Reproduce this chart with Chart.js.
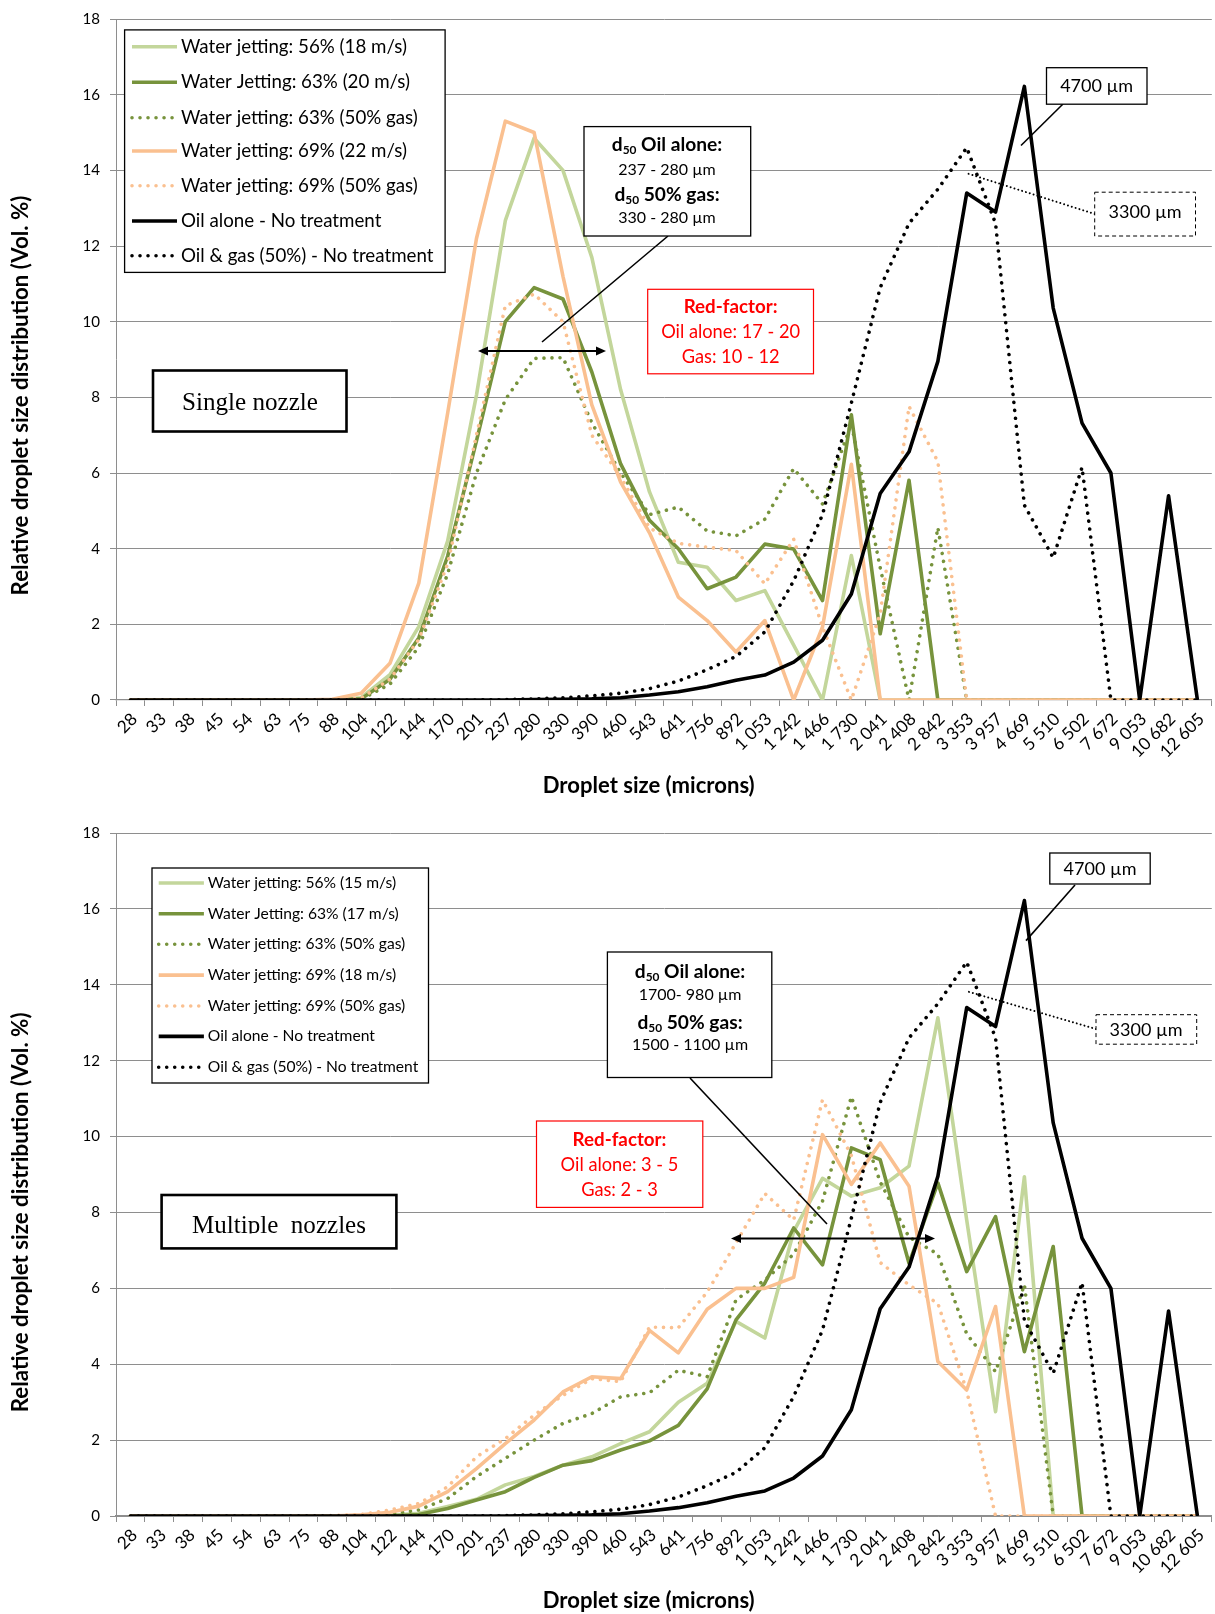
<!DOCTYPE html>
<html><head><meta charset="utf-8">
<script src="https://cdn.jsdelivr.net/npm/chart.js@4.4.1/dist/chart.umd.min.js"></script>
<style>
html,body{margin:0;padding:0;background:#fff;overflow:hidden;width:1215px;height:1614px;}
.wrap{position:absolute;left:0;width:1215px;height:807px;}
#w1{top:0} #w2{top:807px}
canvas{display:block}
</style></head><body>
<div class="wrap" id="w1"><canvas id="c1" width="1215" height="807"></canvas></div>
<div class="wrap" id="w2"><canvas id="c2" width="1215" height="807"></canvas></div>
<script>
// ---------------- DATA ----------------
const categories = ["28","33","38","45","54","63","75","88","104","122","144","170","201","237","280","330","390","460","543","641","756","892","1 053","1 242","1 466","1 730","2 041","2 408","2 842","3 353","3 957","4 669","5 510","6 502","7 672","9 053","10 682","12 605"];

// untreated references (same in both panels)
const oilAlone = [0,0,0,0,0,0,0,0,0,0,0,0,0,0,0.01,0.02,0.03,0.06,0.13,0.22,0.35,0.52,0.66,1.0,1.58,2.8,5.46,6.56,8.95,13.4,12.9,16.22,10.36,7.32,6.0,0,5.4,0];
const oilGas   = [0,0,0,0,0,0,0,0,0,0,0,0,0,0.01,0.03,0.06,0.11,0.18,0.3,0.5,0.8,1.15,1.8,3.15,4.9,7.85,10.9,12.6,13.5,14.6,12.6,5.15,3.76,6.15,0,0,0,0];

// Single nozzle
const single56   = [0,0,0,0,0,0,0,0,0.06,0.67,1.94,4.2,8.06,12.67,14.85,14.0,11.7,8.2,5.5,3.64,3.51,2.63,2.89,1.45,0,3.82,0,0,0,0,0,0,0,0,0,0,0,0];
const single63   = [0,0,0,0,0,0,0,0,0.03,0.55,1.64,3.8,6.85,10.0,10.9,10.6,8.67,6.24,4.75,4.0,2.94,3.25,4.12,3.99,2.63,7.54,1.75,5.81,0,0,0,0,0,0,0,0,0,0];
const single63gas= [0,0,0,0,0,0,0,0,0.02,0.42,1.4,3.33,6.0,7.94,9.03,9.05,7.33,6.0,4.9,5.1,4.47,4.34,4.78,6.12,5.18,7.3,3.5,0,4.56,0,0,0,0,0,0,0,0,0];
const single69   = [0,0,0,0,0,0,0,0.02,0.18,0.97,3.09,7.58,12.2,15.3,15.0,11.2,7.8,5.76,4.42,2.72,2.1,1.27,2.1,0,1.93,6.23,0,0,0,0,0,0,0,0,0,0,0,0];
const single69gas= [0,0,0,0,0,0,0,0,0.05,0.55,1.6,3.6,7.0,10.42,10.73,10.0,7.0,5.9,4.55,4.14,4.04,3.95,3.07,4.25,1.93,0,2.28,7.76,6.3,0,0,0,0,0,0,0,0,0];

// Multiple nozzles
const multi56    = [0,0,0,0,0,0,0,0,0,0.02,0.07,0.25,0.44,0.82,1.04,1.34,1.56,1.91,2.22,3.0,3.5,5.13,4.69,7.5,8.9,8.43,8.65,9.22,13.13,7.8,2.75,8.94,0,0,0,0,0,0];
const multi63    = [0,0,0,0,0,0,0,0,0,0,0.04,0.2,0.42,0.64,1.02,1.34,1.46,1.74,1.98,2.39,3.35,5.17,6.14,7.59,6.62,9.7,9.39,6.66,8.78,6.44,7.89,4.33,7.1,0,0,0,0,0];
const multi63gas = [0,0,0,0,0,0,0,0,0,0.05,0.16,0.46,1.04,1.52,2.0,2.44,2.7,3.14,3.25,3.84,3.67,5.7,6.22,6.9,8.3,11.05,8.8,7.35,6.9,4.8,3.8,6.1,0,0,0,0,0,0];
const multi69    = [0,0,0,0,0,0,0,0,0.03,0.1,0.26,0.64,1.25,1.91,2.53,3.27,3.67,3.62,4.89,4.3,5.45,6.0,6.0,6.29,10.05,8.74,9.83,8.69,4.07,3.32,5.52,0,0,0,0,0,0,0];
const multi69gas = [0,0,0,0,0,0,0,0.01,0.04,0.16,0.33,0.77,1.56,2.04,2.66,3.18,3.62,3.54,4.98,4.96,5.9,7.2,8.5,7.8,10.97,9.5,6.68,6.09,5.6,3.3,0,0,0,0,0,0,0,0];

const legendSingle = ["Water jetting: 56% (18 m/s)","Water Jetting: 63% (20 m/s)","Water jetting: 63% (50% gas)","Water jetting: 69% (22 m/s)","Water jetting: 69% (50% gas)","Oil alone - No treatment","Oil & gas (50%) - No treatment"];
const legendMulti  = ["Water jetting: 56% (15 m/s)","Water Jetting: 63% (17 m/s)","Water jetting: 63% (50% gas)","Water jetting: 69% (18 m/s)","Water jetting: 69% (50% gas)","Oil alone - No treatment","Oil & gas (50%) - No treatment"];

const xTitle = "Droplet size (microns)";
const yTitle = "Relative droplet size distribution (Vol. %)";

// ---------------- STYLE ----------------
const F = "Lato";
const SERIF = "'Liberation Serif'";
const GRID = '#8e8e8e';
const C_LG = '#c3d69b', C_DG = '#77933c', C_OR = '#fac090', C_BK = '#000000';
const DOT = [0.01, 8];
const LW = 3.6;

const mctx = document.createElement('canvas').getContext('2d');
function fit(text, weight, family, target) {
  mctx.font = weight + ' 100px ' + family;
  return 100 * target / mctx.measureText(text).width;
}
function richParts(text1, text2, size) {
  return [
    {t: text1, font: 'bold ' + size + 'px ' + F, dy: 0},
    {t: '50', font: 'bold ' + (size * 0.62) + 'px ' + F, dy: size * 0.28},
    {t: text2, font: 'bold ' + size + 'px ' + F, dy: 0}
  ];
}
function richWidth(parts) {
  let w = 0;
  parts.forEach(p => { mctx.font = p.font; w += mctx.measureText(p.t).width; });
  return w;
}
const sz = {
  tick: fit('18', 'normal', F, 17.5),
  axisTitle: fit(xTitle, 'bold', F, 212),
  yTitle: fit(yTitle, 'bold', F, 400),
  legend1: fit('Water jetting: 56% (18 m/s)', 'normal', F, 226),
  legend2: fit('Water jetting: 56% (15 m/s)', 'normal', F, 188.6),
  d50: fit('237 - 280 µm', 'normal', F, 97.7),
  d50b: 100 * 110.5 / richWidth(richParts('d', ' Oil alone:', 100)),
  red: fit('Oil alone: 17 - 20', 'normal', F, 139),
  redb: fit('Red-factor:', 'bold', F, 94),
  um: fit('4700 µm', 'normal', F, 73),
  single: fit('Single nozzle', 'normal', SERIF, 136),
  multi: fit('Multiple  nozzles', 'normal', SERIF, 174)
};

function makeSeries(labels, lg, dg, dgd, or, ord) {
  return [
    {label: labels[0], data: lg,  color: C_LG, dotted: false},
    {label: labels[1], data: dg,  color: C_DG, dotted: false},
    {label: labels[2], data: dgd, color: C_DG, dotted: true},
    {label: labels[3], data: or,  color: C_OR, dotted: false},
    {label: labels[4], data: ord, color: C_OR, dotted: true},
    {label: labels[5], data: oilAlone, color: C_BK, dotted: false},
    {label: labels[6], data: oilGas,   color: C_BK, dotted: true}
  ];
}

// ---------------- DRAW HELPERS ----------------
function rect(c, x, y, w, h, o) {
  c.save();
  if (o.fill) { c.fillStyle = o.fill; c.fillRect(x, y, w, h); }
  c.strokeStyle = o.stroke || '#000'; c.lineWidth = o.lw || 1;
  c.setLineDash(o.dash || []);
  c.strokeRect(x, y, w, h);
  c.restore();
}
function txt(c, s, x, y, font, color, align) {
  c.font = font; c.fillStyle = color || '#000';
  c.textAlign = align || 'center'; c.textBaseline = 'middle';
  c.fillText(s, x, y);
}
function seg(c, x1, y1, x2, y2, lw, dash, cap) {
  c.save(); c.strokeStyle = '#000'; c.lineWidth = lw; c.setLineDash(dash || []);
  c.lineCap = cap || 'butt';
  c.beginPath(); c.moveTo(x1, y1); c.lineTo(x2, y2); c.stroke(); c.restore();
}
function dblArrow(c, x1, x2, y) {
  const hl = 10, hw = 4.5;
  seg(c, x1 + hl - 1, y, x2 - hl + 1, y, 2);
  c.fillStyle = '#000';
  c.beginPath(); c.moveTo(x1, y); c.lineTo(x1 + hl, y - hw); c.lineTo(x1 + hl, y + hw); c.closePath(); c.fill();
  c.beginPath(); c.moveTo(x2, y); c.lineTo(x2 - hl, y - hw); c.lineTo(x2 - hl, y + hw); c.closePath(); c.fill();
}
function rich(c, parts, cx, cy) {
  const w = richWidth(parts);
  let x = cx - w / 2;
  c.textAlign = 'left'; c.textBaseline = 'middle'; c.fillStyle = '#000';
  parts.forEach(p => { c.font = p.font; c.fillText(p.t, x, cy + p.dy); x += c.measureText(p.t).width; });
}

function annotPlugin(P) {
  return {
    id: 'annot_' + P.id,
    afterDraw(chart) {
      const c = chart.ctx;
      c.save();
      // axis titles
      c.save(); c.translate(P.yTitlePos[0], P.yTitlePos[1]); c.rotate(-Math.PI / 2);
      txt(c, yTitle, 0, 0, 'bold ' + sz.yTitle + 'px ' + F, '#000'); c.restore();
      txt(c, xTitle, P.xTitlePos[0], P.xTitlePos[1], 'bold ' + sz.axisTitle + 'px ' + F, '#000');

      // legend
      const L = P.legend;
      rect(c, L.box[0], L.box[1], L.box[2], L.box[3], {fill: '#fff', stroke: '#000', lw: 1.3});
      P.series.forEach((s, i) => {
        const y = L.rows[i];
        c.save(); c.strokeStyle = s.color; c.lineWidth = LW;
        c.setLineDash(s.dotted ? DOT : []); c.lineCap = s.dotted ? 'round' : 'butt';
        c.beginPath(); c.moveTo(L.sx[0], y); c.lineTo(L.sx[1], y); c.stroke(); c.restore();
        txt(c, s.label, L.tx, y, L.size + 'px ' + F, '#000', 'left');
      });

      // d50 box + leader + arrow
      const D = P.d50;
      seg(c, D.leader[0], D.leader[1], D.leader[2], D.leader[3], 1.6);
      rect(c, D.box[0], D.box[1], D.box[2], D.box[3], {fill: '#fff', stroke: '#000', lw: 1.3});
      rich(c, richParts('d', ' Oil alone:', sz.d50b), D.cx, D.rows[0]);
      txt(c, D.lines[0], D.cx, D.rows[1], sz.d50 + 'px ' + F, '#000');
      rich(c, richParts('d', ' 50% gas:', sz.d50b), D.cx, D.rows[2]);
      txt(c, D.lines[1], D.cx, D.rows[3], sz.d50 + 'px ' + F, '#000');
      dblArrow(c, P.arrow[0], P.arrow[1], P.arrow[2]);

      // red-factor box
      const R = P.red;
      rect(c, R.box[0], R.box[1], R.box[2], R.box[3], {fill: '#fff', stroke: '#ff0000', lw: 1.2});
      txt(c, 'Red-factor:', R.cx, R.rows[0], 'bold ' + sz.redb + 'px ' + F, '#ff0000');
      txt(c, R.lines[0], R.cx, R.rows[1], sz.red + 'px ' + F, '#ff0000');
      txt(c, R.lines[1], R.cx, R.rows[2], sz.red + 'px ' + F, '#ff0000');

      // nozzle label box
      const N = P.nozzle;
      rect(c, N.box[0], N.box[1], N.box[2], N.box[3], {fill: '#fff', stroke: '#000', lw: 2.6});
      c.save();
      if (N.clip) { c.beginPath(); c.rect(N.box[0], N.box[1], N.box[2], N.clip - N.box[1]); c.clip(); }
      c.font = N.size + 'px ' + SERIF; c.fillStyle = '#000'; c.textAlign = 'center'; c.textBaseline = 'alphabetic';
      c.fillText(N.text, N.cx, N.base);
      c.restore();

      // 4700 µm
      const A = P.peak;
      seg(c, A.leader[0], A.leader[1], A.leader[2], A.leader[3], 1.6);
      rect(c, A.box[0], A.box[1], A.box[2], A.box[3], {fill: '#fff', stroke: '#000', lw: 1.3});
      txt(c, '4700 µm', A.cx, A.cy, sz.um + 'px ' + F, '#000');

      // 3300 µm
      const B = P.peakGas;
      seg(c, B.leader[0], B.leader[1], B.leader[2], B.leader[3], 2, [0.01, 4], 'round');
      rect(c, B.box[0], B.box[1], B.box[2], B.box[3], {fill: '#fff', stroke: '#000', lw: 1, dash: [4, 3]});
      txt(c, '3300 µm', B.cx, B.cy, sz.um + 'px ' + F, '#000');
      c.restore();
    }
  };
}

function makeChart(canvasId, P) {
  const datasets = P.series.map((s, i) => ({
    label: s.label, data: s.data, borderColor: s.color, backgroundColor: s.color,
    borderWidth: LW, borderDash: s.dotted ? DOT : [], borderCapStyle: s.dotted ? 'round' : 'butt',
    borderJoinStyle: 'round', pointRadius: 0, pointHoverRadius: 0, tension: 0, fill: false,
    order: P.series.length - 1 - i
  }));
  return new Chart(document.getElementById(canvasId), {
    type: 'line',
    data: {labels: categories, datasets},
    options: {
      responsive: false, animation: false, devicePixelRatio: 1,
      layout: {padding: {top: P.plotTop, bottom: 0, left: 0, right: 0}},
      plugins: {legend: {display: false}, tooltip: {enabled: false}, title: {display: false}},
      scales: {
        x: {
          type: 'category', offset: true,
          grid: {display: true, offset: true, drawOnChartArea: false, drawTicks: true, tickLength: 6, color: GRID, lineWidth: 1},
          border: {display: true, color: GRID, width: 1.3},
          ticks: {autoSkip: false, maxRotation: 45, minRotation: 45, padding: 3, labelOffset: 4, color: '#000', font: {family: F, size: sz.tick * 1.14}},
          afterFit: s => { s.height = P.xHeight; }
        },
        y: {
          min: 0, max: 18,
          ticks: {stepSize: 2, padding: 10, color: '#000', font: {family: F, size: sz.tick}},
          grid: {color: GRID, lineWidth: 1, tickLength: 6, drawTicks: true},
          border: {display: true, color: GRID, width: 1},
          afterFit: s => { s.width = 116; }
        }
      }
    },
    plugins: [annotPlugin(P)]
  });
}

// ---------------- PANELS ----------------
makeChart('c1', {
  id: 1, plotTop: 17.5, xHeight: 107,
  series: makeSeries(legendSingle, single56, single63, single63gas, single69, single69gas),
  yTitlePos: [20.6, 395.5], xTitlePos: [648.7, 785.7],
  legend: {box: [124.6, 29.9, 320.5, 242.5], rows: [46.7, 82.3, 117.7, 151, 185.7, 221, 255.7], sx: [132, 177], tx: 181, size: sz.legend1},
  d50: {box: [584, 126.6, 166.7, 109.4], cx: 667, rows: [145, 170, 195, 218], lines: ['237 - 280 µm', '330 - 280 µm'], leader: [668, 236, 542, 342]},
  arrow: [478, 606, 351],
  red: {box: [647.7, 289.3, 165.8, 84.5], cx: 730.6, rows: [307, 332.6, 357.3], lines: ['Oil alone: 17 - 20', 'Gas: 10 - 12']},
  nozzle: {box: [153, 370.5, 193.5, 61], text: 'Single nozzle', cx: 250, base: 410, size: sz.single},
  peak: {box: [1046.5, 67.7, 100.5, 36.5], cx: 1096.6, cy: 86, leader: [1063, 104, 1021, 145.5]},
  peakGas: {box: [1094.7, 192.2, 100.8, 43.8], cx: 1145, cy: 212, leader: [1094.7, 214, 966, 173]}
});

makeChart('c2', {
  id: 2, plotTop: 26, xHeight: 98,
  series: makeSeries(legendMulti, multi56, multi63, multi63gas, multi69, multi69gas),
  yTitlePos: [20.6, 405.4], xTitlePos: [648.7, 794.2],
  legend: {box: [152, 61, 276.5, 215], rows: [76, 106.8, 137.2, 168.1, 199, 229.4, 260.3], sx: [158.7, 203.9], tx: 207.8, size: sz.legend2},
  d50: {box: [607.4, 145, 164.4, 125.5], cx: 690, rows: [164.4, 188, 215.6, 238.2], lines: ['1700- 980 µm', '1500 - 1100 µm'], leader: [690, 271, 827, 417]},
  arrow: [731, 935, 431.5],
  red: {box: [536.5, 314, 166.3, 86.4], cx: 619.5, rows: [333, 358, 383], lines: ['Oil alone: 3 - 5', 'Gas: 2 - 3']},
  nozzle: {box: [161.6, 388, 234.8, 53.4], text: 'Multiple  nozzles', cx: 279, base: 426, clip: 426.5, size: sz.multi},
  peak: {box: [1049.8, 46, 100.4, 31], cx: 1100, cy: 62, leader: [1075, 78, 1026, 133.6]},
  peakGas: {box: [1096, 207.7, 100.7, 29.5], cx: 1146, cy: 223, leader: [1096, 222, 966, 184]}
});
</script>
</body></html>
